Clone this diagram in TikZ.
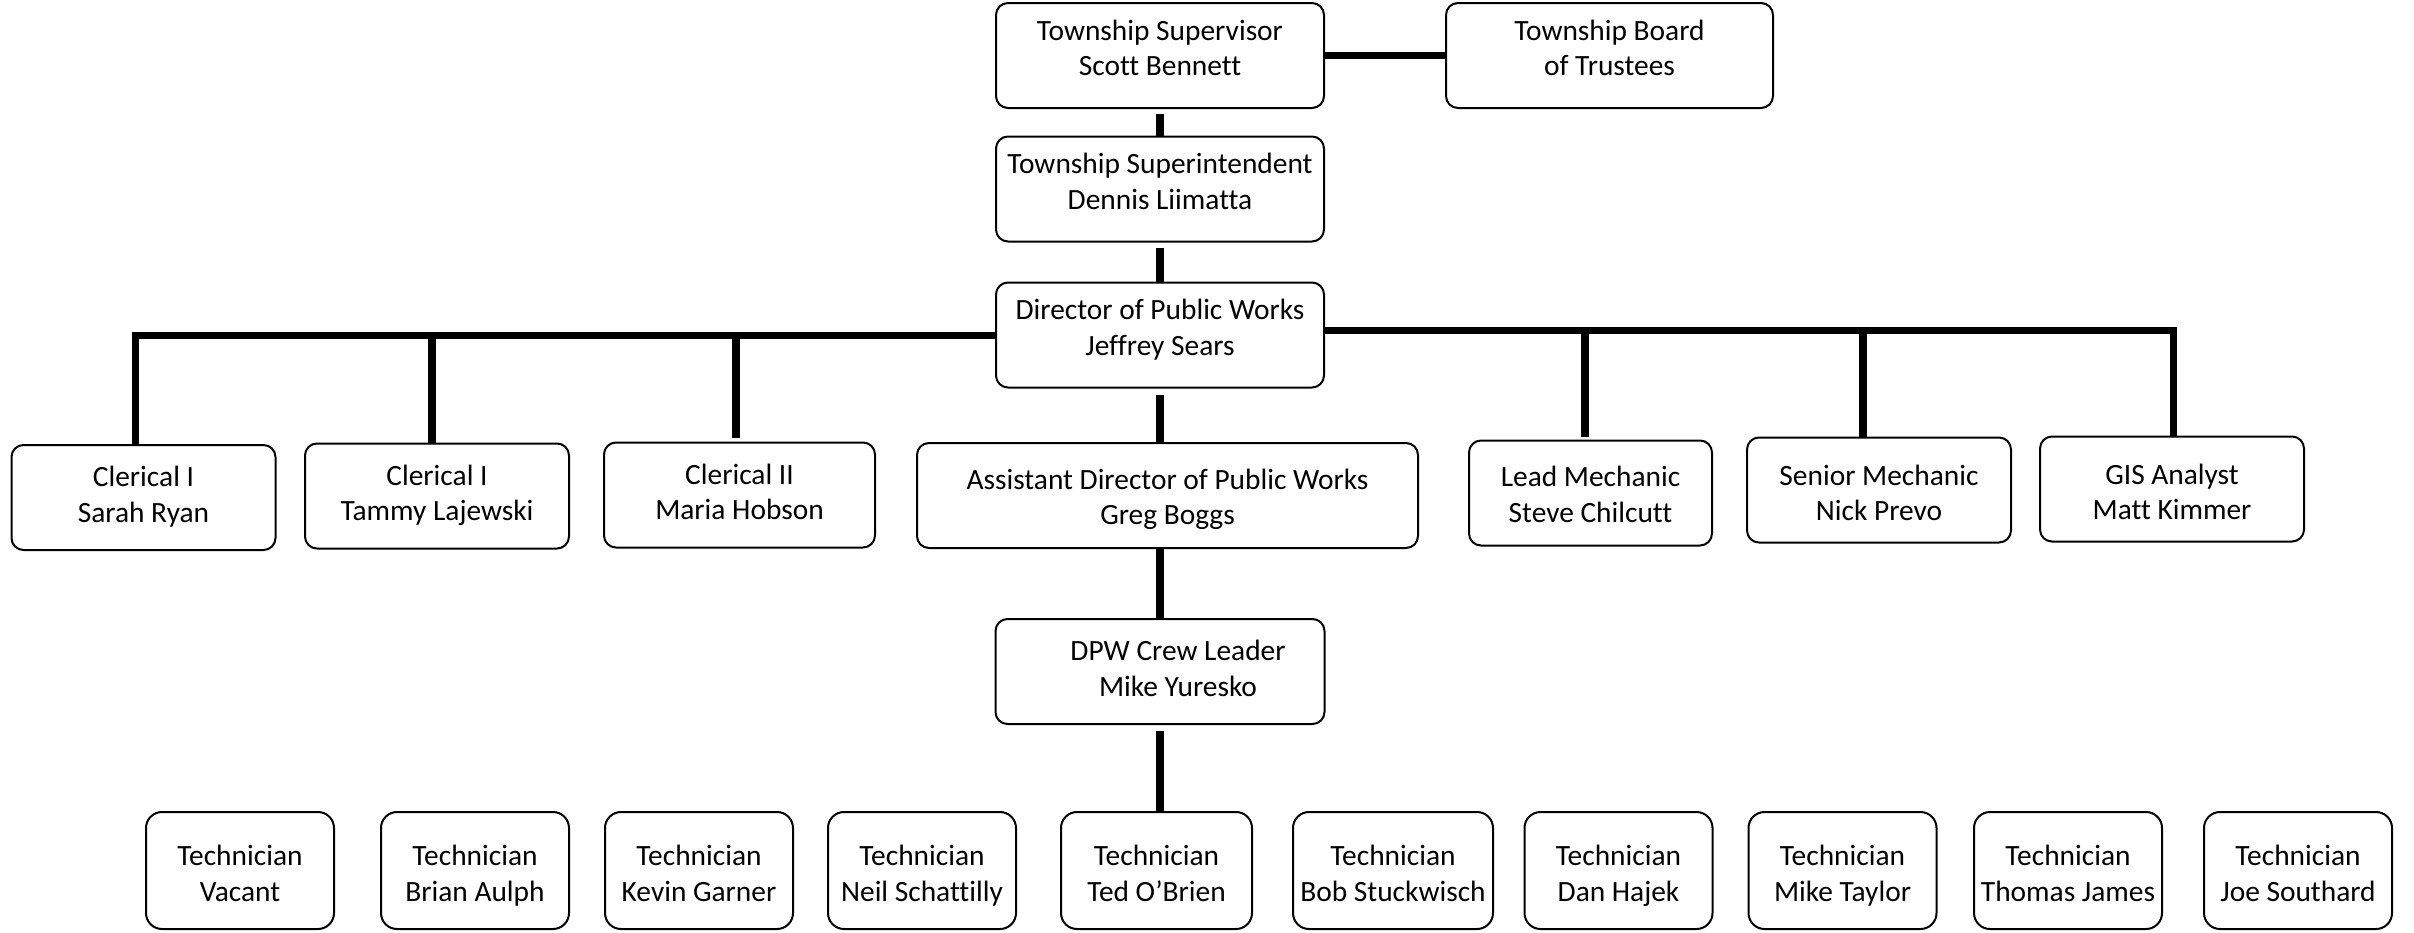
\documentclass[tikz,border=0pt]{standalone}
\usepackage{fontspec}
\setmainfont[Ligatures=NoCommon]{Carlito}
\newcommand\mytxt[2]{\raisebox{#1}[\height][\depth]{\begin{tabular}{@{}c@{}}#2\end{tabular}}}
\begin{document}
\begin{tikzpicture}[x=0.5pt,y=-0.5pt,
  box/.style={draw=black, line width=1pt, rounded corners=6pt, align=center, inner sep=0pt,
    font=\fontsize{14.7}{17.7}\selectfont, minimum height=52.5pt},
  tech/.style={box, rounded corners=8pt, minimum width=94pt, minimum height=58.5pt},
  conn/.style={line width=3.6pt, line cap=butt, line join=miter}]
\useasboundingbox (0,0) rectangle (2414,932);

% top levels
\node[box, minimum width=164pt] (sup) at (1160,55.5) {\mytxt{2.3pt}{Township Supervisor\\Scott Bennett}};
\node[box, minimum width=163.5pt] (board) at (1609.5,55.5) {\mytxt{2.3pt}{Township Board\\of Trustees}};
\node[box, minimum width=164pt] (supt) at (1160,189) {\mytxt{2.3pt}{Township Superintendent\\Dennis Liimatta}};
\node[box, minimum width=164pt] (dir) at (1160,335) {\mytxt{2.3pt}{Director of Public Works\\Jeffrey Sears}};

% second row
\node[box, minimum width=132pt] (sarah) at (143.5,497.5) {\mytxt{0pt}{Clerical I\\Sarah Ryan}};
\node[box, minimum width=132pt] (tammy) at (437,496) {\mytxt{0pt}{Clerical I\\Tammy Lajewski}};
\node[box, minimum width=135.5pt] (maria) at (739.5,495) {\mytxt{0pt}{Clerical II\\Maria Hobson}};
\node[box, minimum width=250.5pt] (asst) at (1167.5,495.5) {\mytxt{-2.3pt}{Assistant Director of Public Works\\Greg Boggs}};
\node[box, minimum width=121.5pt] (lead) at (1590.5,493) {\mytxt{-2.3pt}{Lead Mechanic\\Steve Chilcutt}};
\node[box, minimum width=132pt] (senior) at (1879,490) {\mytxt{-3pt}{Senior Mechanic\\Nick Prevo}};
\node[box, minimum width=132pt] (gis) at (2172,489) {\mytxt{-3pt}{GIS Analyst\\Matt Kimmer}};

% crew leader
\node[box, minimum width=164.5pt] (crew) at (1160,671.5) {\mytxt{0pt}{\hspace*{18pt}DPW Crew Leader\\\hspace*{18pt}Mike Yuresko}};

% technicians
\node[tech] (t1) at (240,870.5) {\mytxt{-3pt}{Technician\\Vacant}};
\node[tech] (t2) at (475,870.5) {\mytxt{-3pt}{Technician\\Brian Aulph}};
\node[tech] (t3) at (699,870.5) {\mytxt{-3pt}{Technician\\Kevin Garner}};
\node[tech] (t4) at (922,870.5) {\mytxt{-3pt}{Technician\\Neil Schattilly}};
\node[tech, minimum width=95.5pt] (t5) at (1156.5,870.5) {\mytxt{-3pt}{Technician\\Ted O’Brien}};
\node[tech, minimum width=100pt] (t6) at (1393,870.5) {\mytxt{-3pt}{Technician\\Bob Stuckwisch}};
\node[tech] (t7) at (1618.5,870.5) {\mytxt{-3pt}{Technician\\Dan Hajek}};
\node[tech] (t8) at (1842.5,870.5) {\mytxt{-3pt}{Technician\\Mike Taylor}};
\node[tech] (t9) at (2068,870.5) {\mytxt{-3pt}{Technician\\Thomas James}};
\node[tech] (t10) at (2298,870.5) {\mytxt{-3pt}{Technician\\Joe Southard}};

% connectors
\draw[conn] (sup.east) -- (board.west);
\draw[conn, shorten <=2.5pt] (sup.south) -- (supt.north);
\draw[conn, shorten <=2.5pt] (supt.south) -- (dir.north);
\draw[conn, shorten <=3pt] (dir.south) -- (dir.south |- asst.north);
\draw[conn] (crew.north |- asst.south) -- (crew.north);
\draw[conn, shorten <=3pt] (crew.south) -- (crew.south |- t5.north);

% left branch
\coordinate (lc) at (135.5,335.5);
\coordinate (lt) at (432,335.5);
\coordinate (lm) at (736,335.5);
\draw[conn] (lc |- sarah.north) -- (lc) -- (lc -| dir.west);
\draw[conn] (lt) -- (lt |- tammy.north);
\draw[conn, shorten >=2pt] (lm) -- (lm |- maria.north);

% right branch
\coordinate (rc) at (2173.5,330.5);
\coordinate (rl) at (1585,330.5);
\coordinate (rs) at (1863,330.5);
\draw[conn] (dir.east |- rc) -- (rc) -- (rc |- gis.north);
\draw[conn, shorten >=1.5pt] (rl) -- (rl |- lead.north);
\draw[conn] (rs) -- (rs |- senior.north);
\end{tikzpicture}
\end{document}
